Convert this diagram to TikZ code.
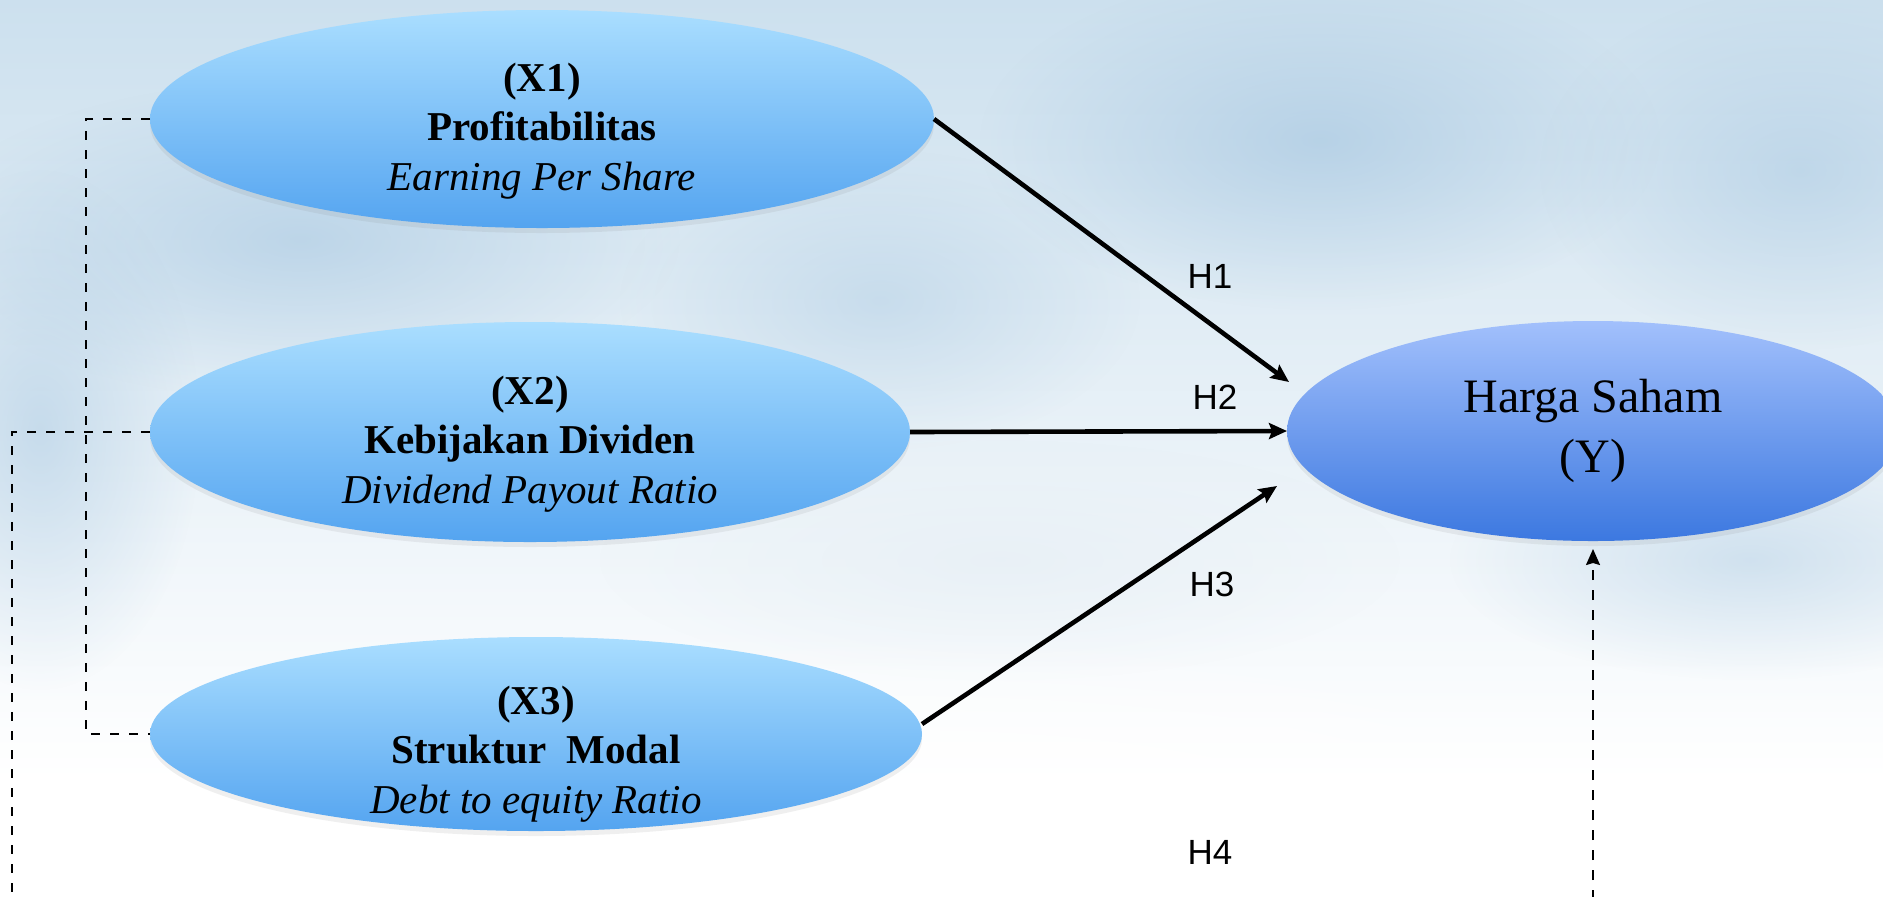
\documentclass[tikz,border=0pt]{standalone}
\usepackage{fontspec}
\setmainfont{Liberation Serif}
\newfontfamily\hfont{Liberation Sans}
\usetikzlibrary{arrows.meta,shapes.geometric,shadows,fadings}
\definecolor{bgA}{RGB}{204,224,238}
\definecolor{bgB}{RGB}{176,205,228}
\definecolor{bgC}{RGB}{232,240,246}
\definecolor{xtop}{RGB}{170,222,255}
\definecolor{xmid}{RGB}{128,196,252}
\definecolor{xbot}{RGB}{84,164,240}
\definecolor{ytop}{RGB}{162,192,252}
\definecolor{ymid}{RGB}{112,156,240}
\definecolor{ybot}{RGB}{60,120,224}
\tikzfading[name=softblob, inner color=transparent!0, outer color=transparent!100]
\begin{document}
\begin{tikzpicture}[x=0.5pt,y=-0.5pt,
  xell/.style={ellipse, draw=none, outer sep=0pt, top color=xtop, middle color=xmid, bottom color=xbot,
    drop shadow={opacity=0.12, shadow xshift=0pt, shadow yshift=-2.5pt}},
  yell/.style={ellipse, draw=none, outer sep=0pt, top color=ytop, middle color=ymid, bottom color=ybot,
    drop shadow={opacity=0.12, shadow xshift=0pt, shadow yshift=-2.5pt}},
  xtext/.style={align=center, inner sep=0pt, font=\fontsize{20.5}{24.8}\selectfont},
  ytext/.style={align=center, inner sep=0pt, font=\fontsize{24}{30}\selectfont},
  hlab/.style={inner sep=0pt, font=\hfont\fontsize{17.5}{20}\selectfont},
  arr/.style={line width=2.3pt, -{Stealth[length=9pt,width=8pt,inset=1.5pt]}},
  dline/.style={line width=1.1pt, dash pattern=on 4.5pt off 5pt},
  dline2/.style={line width=0.9pt, dash pattern=on 5pt off 5pt, -{Stealth[length=8pt,width=7pt,inset=1pt]}},
  patch/.style={path fading=softblob}
]
\useasboundingbox (0,0) rectangle (1883,896);
\clip (0,0) rectangle (1883,896);
% background
\fill[white] (0,0) rectangle (1883,896);
\shade[top color=bgA, middle color=bgA!90!white, bottom color=white] (0,0) rectangle (1883,780);
\fill[bgB, patch, opacity=0.8] (1320,140) ellipse (340 and 170);
\fill[bgB, patch, opacity=0.7] (300,240) ellipse (380 and 160);
\fill[bgB, patch, opacity=0.6] (40,430) ellipse (160 and 260);
\fill[bgB, patch, opacity=0.6] (1800,170) ellipse (260 and 180);
\fill[bgB, patch, opacity=0.5] (880,300) ellipse (260 and 150);
\fill[bgB, patch, opacity=0.5] (1750,560) ellipse (300 and 120);
\fill[bgC, patch, opacity=0.9] (1000,560) ellipse (400 and 120);
\fill[white, patch, opacity=1] (900,830) ellipse (900 and 200);
% ellipses
\node[xell, minimum width=392pt, minimum height=109pt] (x1) at (542,119) {};
\node[xell, minimum width=380pt, minimum height=110pt] (x2) at (530,432) {};
\node[xell, minimum width=386pt, minimum height=97pt] (x3) at (536,734) {};
\node[yell, minimum width=306pt, minimum height=110pt] (y) at (1593,431) {};
% texts
\node[xtext] (t1) at (542,131) {\textbf{(X1)}\\\textbf{Profitabilitas}\\\textit{Earning Per Share}};
\node[xtext] (t2) at (530,444) {\textbf{(X2)}\\\textbf{Kebijakan Dividen}\\\textit{Dividend Payout Ratio}};
\node[xtext] (t3) at (536,754) {\textbf{(X3)}\\\textbf{Struktur\ \ Modal}\\\textit{Debt to equity Ratio}};
\node[ytext] (ty) at (1593,431) {Harga Saham\\(Y)};
% connectors
\coordinate (h1e) at (1289,382);
\coordinate (h3s) at ([yshift=5pt]x3.east);
\coordinate (h3e) at (1277,486);
\draw[arr] (x1.east) -- (h1e);
\draw[arr] (x2.east) -- (y.west);
\draw[arr] (h3s) -- (h3e);
\draw[dline] (x1.west) -- ++(-64,0) |- (x3.west);
\coordinate (b1) at (12,900);
\draw[dline] (x2.west) -| (b1);
\coordinate (b2) at (y.south |- b1);
\draw[dline2] (b2) -- ([yshift=-4pt]y.south);
% labels
\node[hlab] (h1) at (1210,276) {H1};
\node[hlab] (h2) at (1215,397) {H2};
\node[hlab] (h3) at (1212,584) {H3};
\node[hlab] (h4) at (1210,852) {H4};
\end{tikzpicture}
\end{document}
